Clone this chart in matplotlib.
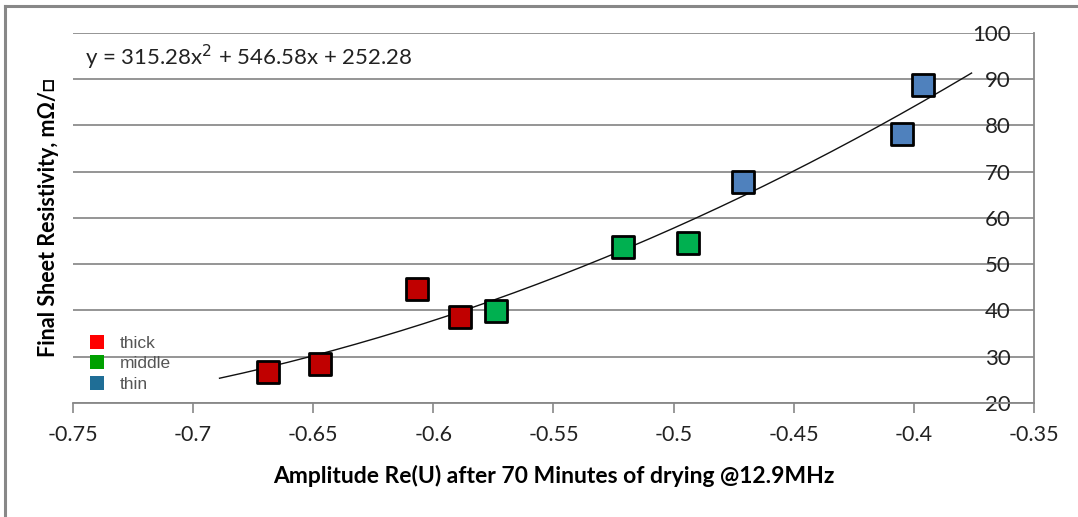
import numpy as np
import matplotlib
matplotlib.use('Agg')
import matplotlib.pyplot as plt
from matplotlib.lines import Line2D

plt.rcParams['font.family'] = ['Lato', 'DejaVu Sans']

# amplitude Re(U) and final sheet resistivity, per layer group
thick_x = [-0.669, -0.647, -0.607, -0.589]
thick_y = [26.8, 28.5, 44.7, 38.5]
middle_x = [-0.574, -0.521, -0.494]
middle_y = [39.8, 53.8, 54.7]
thin_x = [-0.471, -0.405, -0.396]
thin_y = [67.7, 78.2, 88.7]

# quadratic trendline (coefficients shown on the chart) and its x range
trend_coef = [315.28, 546.58, 252.28]
trend_range = (-0.689, -0.376)

group_names = ['thick', 'middle', 'thin']
marker_colors = ['#C00000', '#00B050', '#4F81BD']
legend_colors = ['#FF0000', '#00A000', '#1F6E96']

fig = plt.figure(figsize=(10.78, 5.17), dpi=100)
ax = fig.add_axes([0.0677, 0.2205, 0.8915, 0.7157])

# outer frame (left and top edges visible)
fig.add_artist(Line2D([0.005, 0.005], [0, 0.988], color='#888888', lw=2.2))
fig.add_artist(Line2D([0.005, 1], [0.988, 0.988], color='#888888', lw=2.2))

xt = np.linspace(trend_range[0], trend_range[1], 200)
ax.plot(xt, np.polyval(trend_coef, xt), color='#111111', lw=1.0, zorder=2)

for xs, ys, c in zip([thick_x, middle_x, thin_x], [thick_y, middle_y, thin_y], marker_colors):
    ax.scatter(xs, ys, marker='s', s=250, c=c, edgecolors='black', linewidths=2, zorder=3)

ax.set_xlim(-0.75, -0.35)
ax.set_ylim(20, 100)
ax.set_xticks(np.arange(-0.75, -0.349, 0.05))
ax.set_xticklabels(['-0.75', '-0.7', '-0.65', '-0.6', '-0.55', '-0.5', '-0.45', '-0.4', '-0.35'])
ax.set_yticks(np.arange(20, 101, 10))

ax.yaxis.tick_right()
ax.tick_params(axis='y', length=0, pad=-17, labelsize=16, labelcolor='#222222')
for lab in ax.get_yticklabels():
    lab.set_horizontalalignment('right')
ax.tick_params(axis='x', length=7, width=1.2, color='#888888', direction='out',
               labelsize=15.5, labelcolor='#222222', pad=9)

ax.grid(axis='y', color='#8C8C8C', lw=1.3)
ax.set_axisbelow(True)
for s in ['left', 'top']:
    ax.spines[s].set_visible(False)
for s in ['bottom', 'right']:
    ax.spines[s].set_color('#888888')
    ax.spines[s].set_linewidth(1.3)

ax.set_xlabel('Amplitude Re(U) after 70 Minutes of drying @12.9MHz',
              fontsize=16.5, fontweight='bold', labelpad=14)
ax.set_ylabel('Final Sheet Resistivity, m\u03a9/\u25a1', fontsize=15.5, fontweight='bold',
              labelpad=10)
ax.yaxis.set_label_position('left')

ax.text(0.0125, 0.935, 'y = 315.28x$^{2}$ + 546.58x + 252.28', transform=ax.transAxes,
        fontsize=16, va='center', ha='left', color='#222222')

handles = [Line2D([], [], marker='s', ls='none', markersize=10.5, color=c, markeredgewidth=0)
           for c in legend_colors]
ax.legend(handles, group_names, loc='upper left', bbox_to_anchor=(0.007, 0.205),
          frameon=False, labelcolor='#555555', handlelength=1.0,
          handletextpad=0.8, labelspacing=0.3, borderpad=0,
          prop={'family': ['Liberation Sans'], 'size': 12.5})

fig.savefig('out.png', dpi=100)
